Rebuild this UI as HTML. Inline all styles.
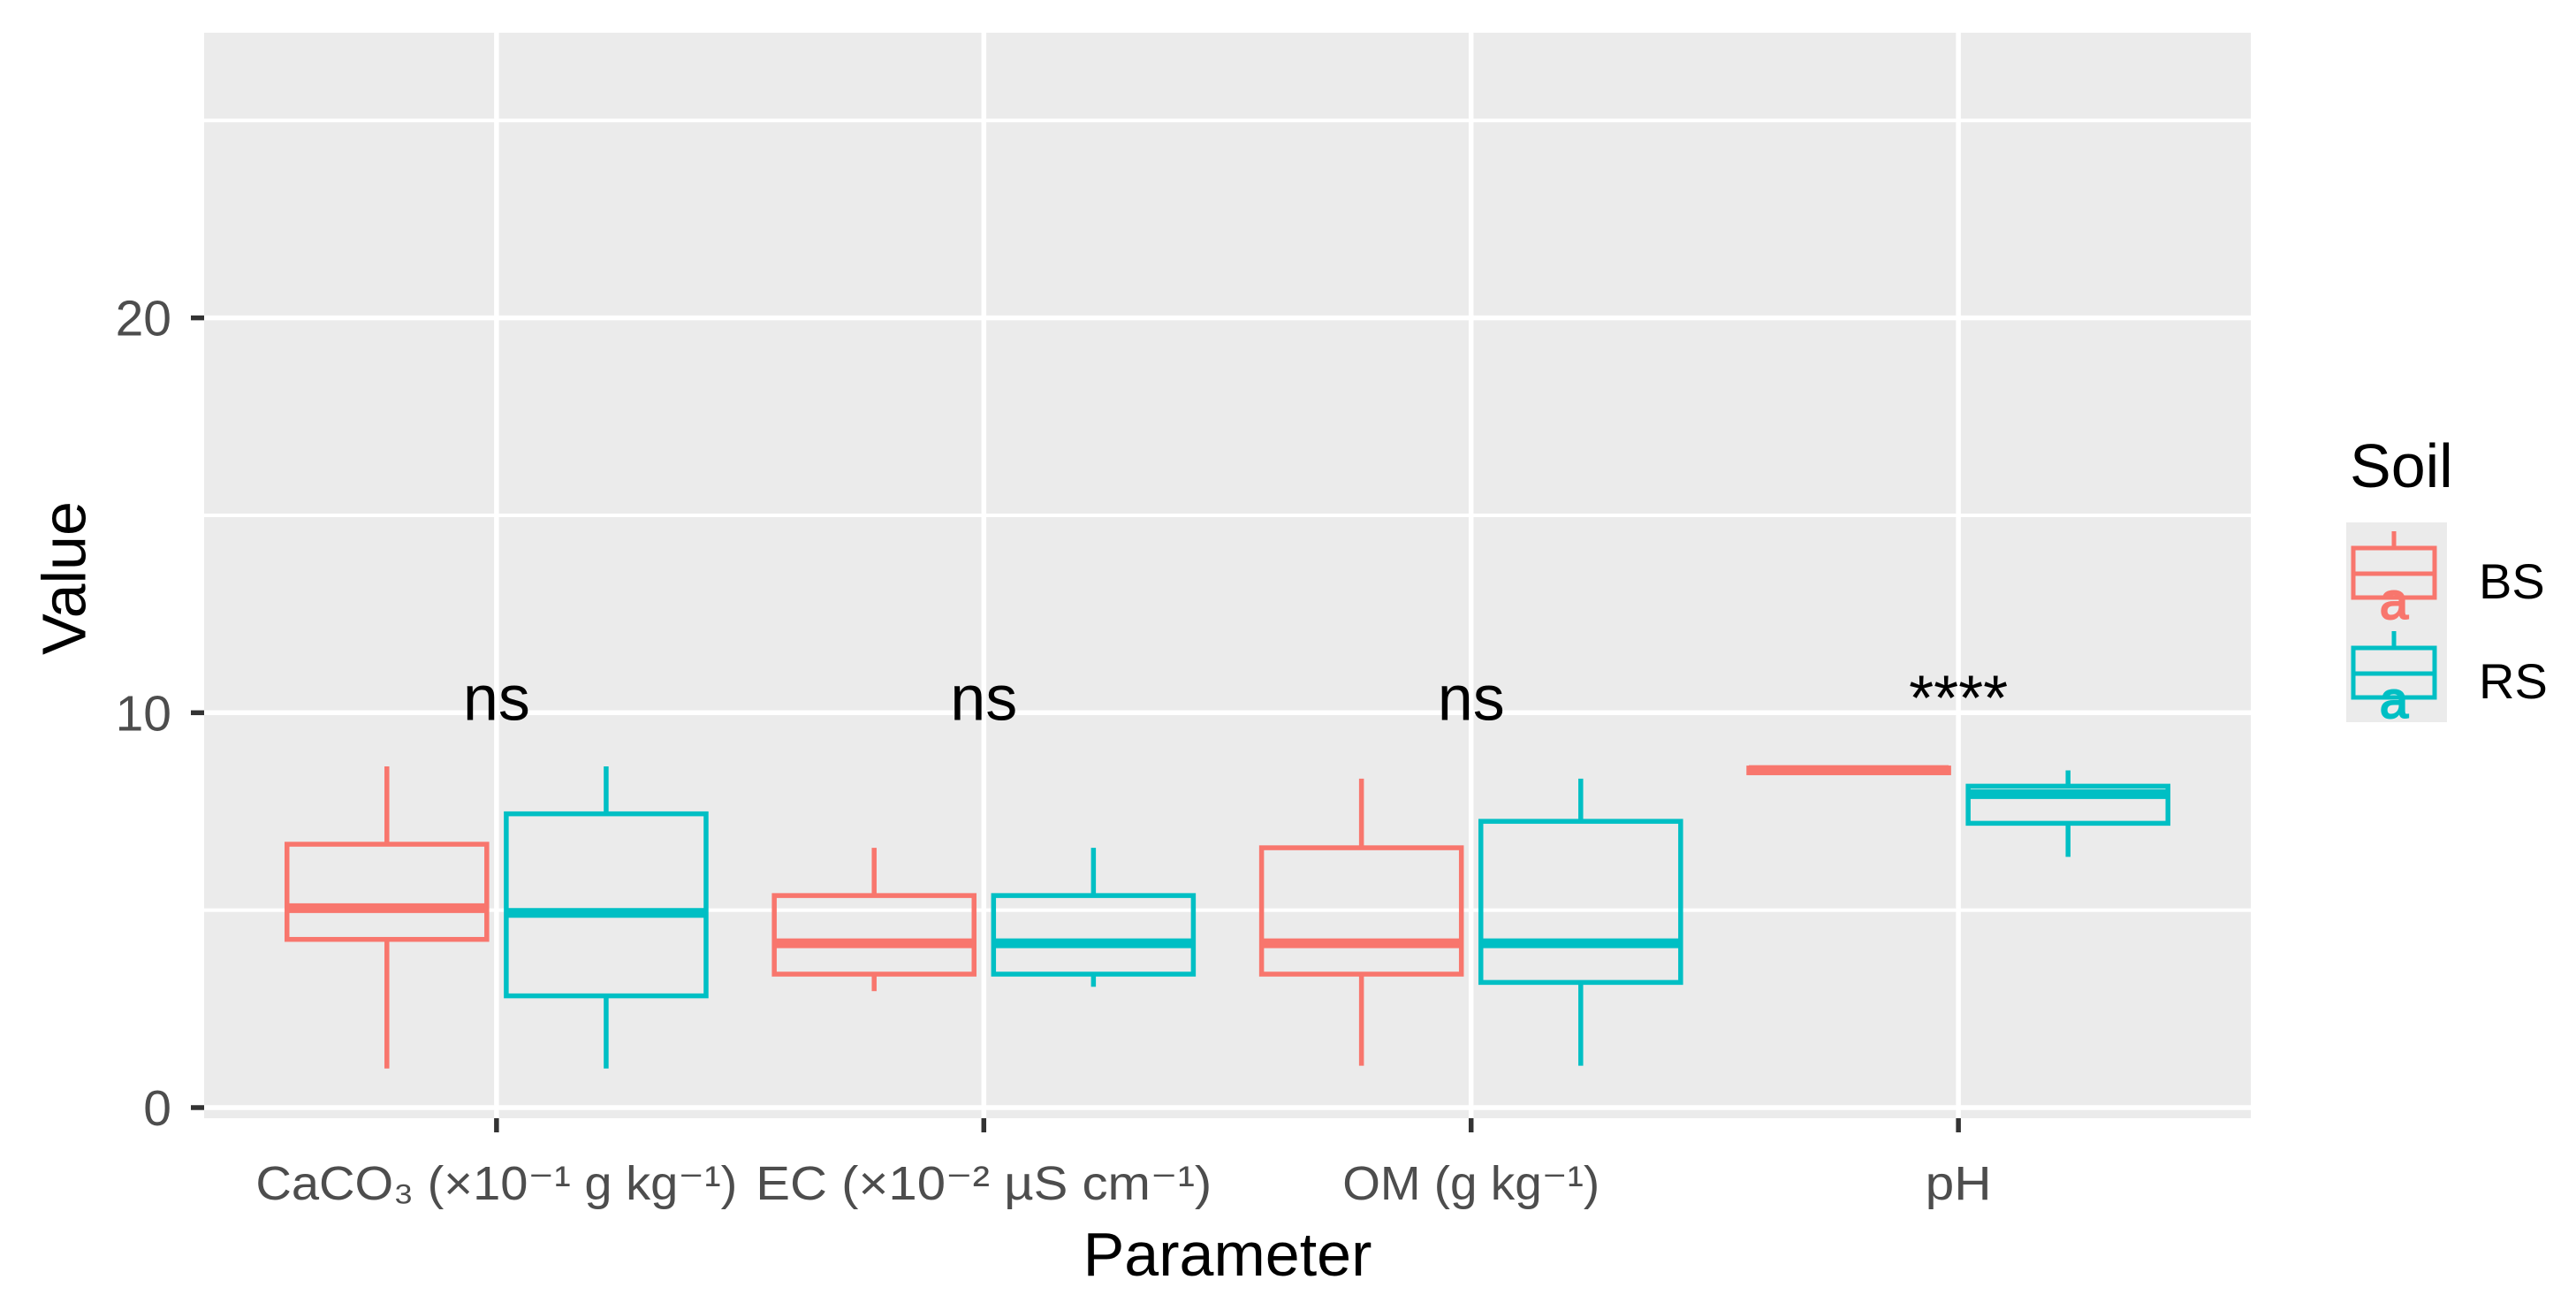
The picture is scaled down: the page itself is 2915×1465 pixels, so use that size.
<!DOCTYPE html>
<html><head><meta charset="utf-8"><style>
html,body{margin:0;padding:0;background:#fff;}
svg{display:block;font-family:"Liberation Sans",Arial,sans-serif;}
</style></head><body>
<svg id="chart" width="2915" height="1465" viewBox="0 0 2915 1465" xmlns="http://www.w3.org/2000/svg" font-family="Liberation Sans, Arial, sans-serif">
<rect x="231" y="37" width="2316" height="1228" fill="#ebebeb"/>
<g id="grid"></g>
<g id="marks"></g>
<g id="axes"></g>
<text x="78" y="654" font-size="70" text-anchor="middle" dominant-baseline="middle" transform="rotate(-90 78 654)" fill="#000">Value</text>
<text x="1389" y="1443" font-size="70" text-anchor="middle" fill="#000">Parameter</text>
<g>
<text x="2659" y="551" font-size="70" fill="#000">Soil</text>
<rect x="2655" y="591" width="114" height="226" fill="#ebebeb"/>
<g>
<line x1="2709" y1="601" x2="2709" y2="620" stroke="#F8766D" stroke-width="5"/>
<rect x="2663" y="620" width="92" height="56" fill="none" stroke="#F8766D" stroke-width="5"/>
<line x1="2663" y1="649" x2="2755" y2="649" stroke="#F8766D" stroke-width="5"/>
<text x="2709" y="700" font-size="58" text-anchor="middle" fill="#F8766D" stroke="#F8766D" stroke-width="2" font-family="Liberation Sans, sans-serif">a</text>
<text x="2805" y="677" font-size="56" fill="#000">BS</text>
</g>
<g>
<line x1="2709" y1="714" x2="2709" y2="733" stroke="#00BFC4" stroke-width="5"/>
<rect x="2663" y="733" width="92" height="56" fill="none" stroke="#00BFC4" stroke-width="5"/>
<line x1="2663" y1="762" x2="2755" y2="762" stroke="#00BFC4" stroke-width="5"/>
<text x="2709" y="812" font-size="58" text-anchor="middle" fill="#00BFC4" stroke="#00BFC4" stroke-width="2" font-family="Liberation Sans, sans-serif">a</text>
<text x="2805" y="790" font-size="56" fill="#000">RS</text>
</g>
</g>
</svg>
<script>
const categories = ["CaCO3", "EC", "OM", "pH"];
const sigLabels = ["ns", "ns", "ns", "****"];
const yTicks = [0, 10, 20];
const yMinor = [5, 15, 25];
// [lowWhisker, q1, median, q3, highWhisker]
const bsStats = [
  [0.99, 4.26, 5.05, 6.67, 8.64],
  [2.95, 3.38, 4.16, 5.37, 6.58],
  [1.06, 3.38, 4.16, 6.58, 8.33],
  [8.45, 8.48, 8.55, 8.6, 8.62]
];
const rsStats = [
  [0.99, 2.83, 4.93, 7.44, 8.64],
  [3.06, 3.38, 4.16, 5.37, 6.58],
  [1.06, 3.17, 4.16, 7.25, 8.33],
  [6.35, 7.2, 7.94, 8.14, 8.54]
];
const sigY = 10.0;

const NS = "http://www.w3.org/2000/svg";
const PL = 231, PR = 2547, PT = 37, PB = 1265;
const unitX = (PR - PL) / 4.2;
function xScale(i) { return PL + (i + 0.6) * unitX; }
function yScale(v) { return 1253 - 44.67 * v; }
function mk(tag, attrs, parent) {
  const e = document.createElementNS(NS, tag);
  for (const k in attrs) e.setAttribute(k, attrs[k]);
  parent.appendChild(e);
  return e;
}
const grid = document.getElementById('grid');
const marks = document.getElementById('marks');
const axes = document.getElementById('axes');

yMinor.forEach(v => {
  const l = mk('line', {x1: PL, x2: PR, y1: yScale(v), y2: yScale(v), stroke: '#fff', 'stroke-width': 4}, grid);
  
  
});
yTicks.forEach(v => {
  const l = mk('line', {x1: PL, x2: PR, y1: yScale(v), y2: yScale(v), stroke: '#fff', 'stroke-width': 5.5}, grid);
  
  
  const t = mk('line', {x1: 216, x2: PL, y1: yScale(v), y2: yScale(v), stroke: '#333', 'stroke-width': 5.5}, axes);
  
  
  const tx = mk('text', {x: 194, y: yScale(v) + 20, 'font-size': 57, 'text-anchor': 'end', fill: '#4d4d4d'}, axes);
  tx.textContent = String(v);
  
  
});

const xLabels = ["CaCO₃ (×10⁻¹ g kg⁻¹)", "EC  (×10⁻² µS cm⁻¹)", "OM (g kg⁻¹)", "pH"];
const xLabelLen = [545, 516, 291, 75];
categories.forEach((c, i) => {
  const x = xScale(i);
  const g = mk('line', {x1: x, x2: x, y1: PT, y2: PB, stroke: '#fff', 'stroke-width': 5.5}, grid);
  
  
  const t = mk('line', {x1: x, x2: x, y1: PB, y2: PB + 16, stroke: '#333', 'stroke-width': 5.5}, axes);
  
  
  const lab = mk('text', {x: x, y: 1357, 'font-size': 54, 'text-anchor': 'middle', fill: '#4d4d4d', textLength: xLabelLen[i], lengthAdjust: 'spacingAndGlyphs'}, axes);
  lab.textContent = xLabels[i];
  
  

  const s = mk('text', {x: x, y: yScale(sigY) + 8, 'font-size': 72, 'text-anchor': 'middle', fill: '#000'}, marks);
  s.textContent = sigLabels[i];
  
  
});

function drawBox(st, cx, color, name) {
  const hw = 0.205 * unitX;
  const g = mk('g', {}, marks);
  
  
  mk('line', {x1: cx, x2: cx, y1: yScale(st[4]), y2: yScale(st[3]), stroke: color, 'stroke-width': 5.5}, g);
  mk('line', {x1: cx, x2: cx, y1: yScale(st[1]), y2: yScale(st[0]), stroke: color, 'stroke-width': 5.5}, g);
  const top = yScale(st[3]), bot = yScale(st[1]);
  mk('rect', {x: cx - hw, y: top, width: 2 * hw, height: Math.max(bot - top, 0.5), fill: 'none', stroke: color, 'stroke-width': 5.5}, g);
  mk('line', {x1: cx - hw, x2: cx + hw, y1: yScale(st[2]), y2: yScale(st[2]), stroke: color, 'stroke-width': 11}, g);
}
categories.forEach((c, i) => {
  drawBox(bsStats[i], xScale(i) - 0.225 * unitX, '#F8766D', 'box-bs-' + c.toLowerCase());
  drawBox(rsStats[i], xScale(i) + 0.225 * unitX, '#00BFC4', 'box-rs-' + c.toLowerCase());
});
</script>
</body></html>
